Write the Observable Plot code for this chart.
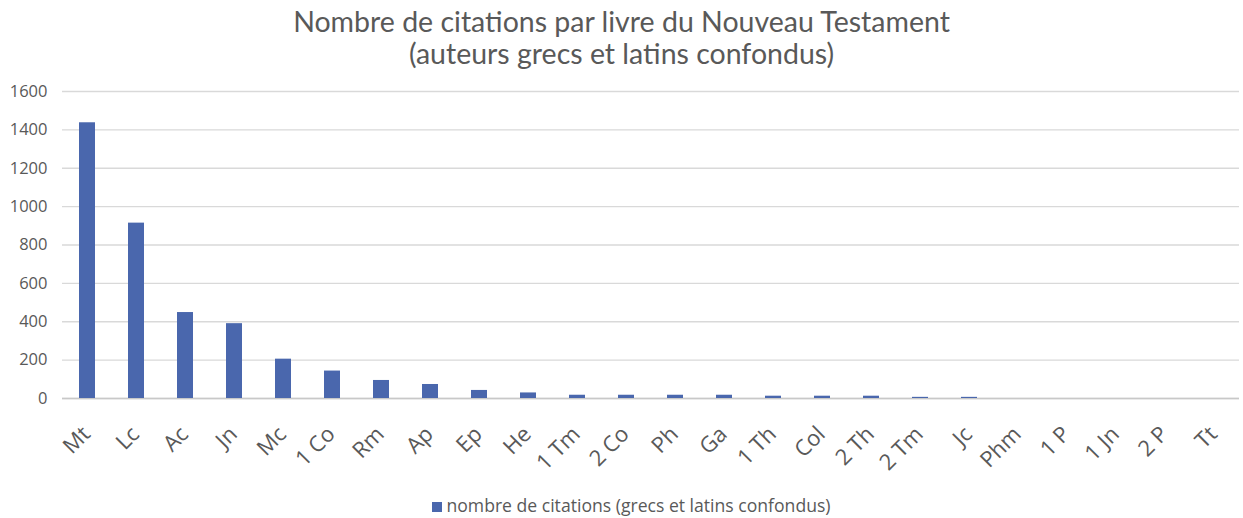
<!DOCTYPE html>
<html>
<head>
<meta charset="utf-8">
<script src="https://cdn.jsdelivr.net/npm/d3@7"></script>
<script src="https://cdn.jsdelivr.net/npm/@observablehq/plot@0.6"></script>
<style>
  html, body { margin: 0; padding: 0; background: #fff; }
  #wrap { width: 1243px; height: 518px; position: relative; overflow: hidden; }
  #title { text-align: center; font-family: Lato, "Open Sans", sans-serif; font-size: 28.5px; line-height: 32px; color: #595959; padding-top: 5px; height: 70px; }
  #legend { position: absolute; top: 493px; left: 10px; width: 1243px; text-align: center; font-family: "Open Sans", sans-serif; font-size: 17.6px; color: #595959; }
  #legend .sw { display: inline-block; width: 10px; height: 10px; background: #4A67AD; margin-right: 4px; vertical-align: 0px; }
  svg { display: block; }
</style>
</head>
<body>
<div id="wrap">
  <div id="title">Nombre de citations par livre du Nouveau Testament<br>(auteurs grecs et latins confondus)</div>
  <div id="chart"></div>
  <div id="legend"><span class="sw"></span>nombre de citations (grecs et latins confondus)</div>
</div>
<script>
const books = ["Mt","Lc","Ac","Jn","Mc","1 Co","Rm","Ap","Ep","He","1 Tm","2 Co","Ph","Ga","1 Th","Col","2 Th","2 Tm","Jc","Phm","1 P","1 Jn","2 P","Tt"];
const citations = [1437, 914, 448, 390, 205, 143, 94, 73, 42, 29, 17, 17, 17, 17, 12, 12, 12, 6, 6, 0, 0, 0, 0, 0];
const yTicks = [0, 200, 400, 600, 800, 1000, 1200, 1400, 1600];

const data = books.map((b, i) => ({book: b, n: citations[i]}));

const chart = Plot.plot({
  width: 1243,
  height: 406,
  marginLeft: 62,
  marginRight: 4,
  marginTop: 16,
  marginBottom: 83,
  style: {fontFamily: "'Open Sans', sans-serif", fontSize: "16px", color: "#595959", background: "#fff"},
  x: {domain: books, paddingInner: 0.67, paddingOuter: 0.335, label: null},
  y: {domain: [0, 1600], label: null},
  marks: [
    Plot.gridY(yTicks, {stroke: "#d9d9d9", strokeOpacity: 1, strokeWidth: 1.3}),
    Plot.ruleY([0], {stroke: "#c8c8c8", strokeWidth: 1.5}),
    Plot.barY(data, {x: "book", y: "n", fill: "#4A67AD"}),
    Plot.axisY(yTicks, {tickSize: 0, tickPadding: 15, fontSize: 16.5, tickFormat: d3.format("d"), fill: "#595959", label: null}),
    Plot.axisX({tickSize: 0, tickRotate: -45, tickPadding: 32, fontSize: 22, fill: "#595959", label: null, dx: -1})
  ]
});
d3.select(chart).selectAll('g[aria-label="x-axis tick label"] text').style("font-size", "22px");
d3.select(chart).selectAll('g[aria-label="y-axis tick label"] text').style("font-size", "16.5px");
document.getElementById("chart").appendChild(chart);
</script>
</body>
</html>
